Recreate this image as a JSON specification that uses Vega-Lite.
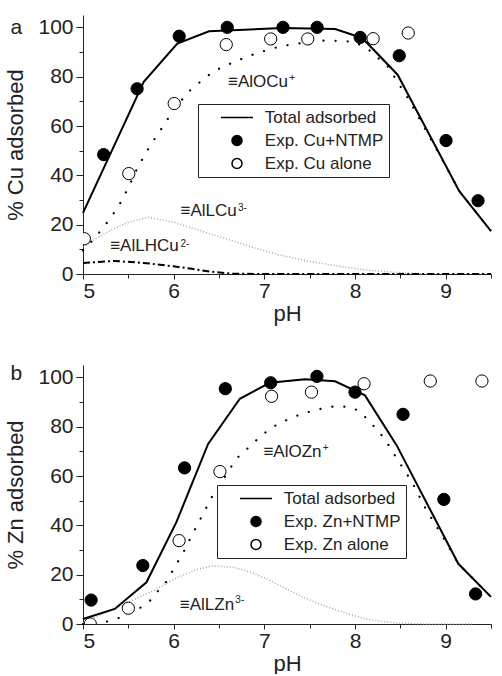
{
  "$schema": "https://vega.github.io/schema/vega-lite/v6.json",
  "background": "white",
  "padding": {"left": 4, "top": 15, "right": 0, "bottom": 0},
  "spacing": 39,
  "resolve": {"scale": {"fill": "independent", "shape": "independent", "stroke": "independent", "x": "independent", "y": "independent"}, "legend": {"fill": "independent", "shape": "independent", "stroke": "independent"}},
  "config": {
    "font": "Liberation Sans",
    "view": {"stroke": null},
    "axis": {"labelFont": "Liberation Sans", "titleFont": "Liberation Sans", "labelFontSize": 21, "titleFontSize": 22, "titleFontWeight": "normal", "domainColor": "#222", "tickColor": "#222", "labelColor": "#222", "titleColor": "#222", "grid": false, "domainWidth": 1, "tickWidth": 1},
    "axisY": {"tickSize": 7, "labelPadding": 3, "titlePadding": 10},
    "axisX": {"tickSize": 5, "labelPadding": 1, "titlePadding": 2}
  },
  "datasets": {
    "cuCurves": [
      {"curve": "total", "pH": 5.0, "val": 24.8}, {"curve": "total", "pH": 5.67, "val": 77.9}, {"curve": "total", "pH": 6.04, "val": 93.4}, {"curve": "total", "pH": 6.39, "val": 98.4}, {"curve": "total", "pH": 7.2, "val": 99.7}, {"curve": "total", "pH": 7.78, "val": 99.3}, {"curve": "total", "pH": 8.08, "val": 95.7}, {"curve": "total", "pH": 8.47, "val": 80.8}, {"curve": "total", "pH": 9.15, "val": 33.6}, {"curve": "total", "pH": 9.5, "val": 17.4},
      {"curve": "AlO", "pH": 5.0, "val": 9.5}, {"curve": "AlO", "pH": 5.1, "val": 13.4}, {"curve": "AlO", "pH": 5.2, "val": 17.7}, {"curve": "AlO", "pH": 5.3, "val": 22.5}, {"curve": "AlO", "pH": 5.4, "val": 28}, {"curve": "AlO", "pH": 5.5, "val": 35}, {"curve": "AlO", "pH": 5.6, "val": 43}, {"curve": "AlO", "pH": 5.74, "val": 52}, {"curve": "AlO", "pH": 5.84, "val": 57.5}, {"curve": "AlO", "pH": 5.92, "val": 62}, {"curve": "AlO", "pH": 6.0, "val": 66.5}, {"curve": "AlO", "pH": 6.1, "val": 71}, {"curve": "AlO", "pH": 6.19, "val": 74.8}, {"curve": "AlO", "pH": 6.31, "val": 78.4}, {"curve": "AlO", "pH": 6.44, "val": 82.2}, {"curve": "AlO", "pH": 6.68, "val": 86.2}, {"curve": "AlO", "pH": 6.92, "val": 89.6}, {"curve": "AlO", "pH": 7.18, "val": 92.3}, {"curve": "AlO", "pH": 7.4, "val": 93.6}, {"curve": "AlO", "pH": 7.64, "val": 94.6}, {"curve": "AlO", "pH": 7.85, "val": 94.5}, {"curve": "AlO", "pH": 8.0, "val": 94}, {"curve": "AlO", "pH": 8.15, "val": 91}, {"curve": "AlO", "pH": 8.36, "val": 84.2}, {"curve": "AlO", "pH": 8.6, "val": 70.3}, {"curve": "AlO", "pH": 8.8, "val": 57}, {"curve": "AlO", "pH": 9.0, "val": 44}, {"curve": "AlO", "pH": 9.15, "val": 33.6}, {"curve": "AlO", "pH": 9.5, "val": 17.4},
      {"curve": "AlL", "pH": 5.0, "val": 11}, {"curve": "AlL", "pH": 5.15, "val": 14.5}, {"curve": "AlL", "pH": 5.32, "val": 18}, {"curve": "AlL", "pH": 5.5, "val": 21}, {"curve": "AlL", "pH": 5.72, "val": 23}, {"curve": "AlL", "pH": 6.0, "val": 21}, {"curve": "AlL", "pH": 6.3, "val": 17.5}, {"curve": "AlL", "pH": 6.61, "val": 13.9}, {"curve": "AlL", "pH": 6.9, "val": 10.5}, {"curve": "AlL", "pH": 7.16, "val": 7.8}, {"curve": "AlL", "pH": 7.45, "val": 5.5}, {"curve": "AlL", "pH": 7.71, "val": 3.8}, {"curve": "AlL", "pH": 8.08, "val": 1.8}, {"curve": "AlL", "pH": 8.35, "val": 0.9}, {"curve": "AlL", "pH": 8.6, "val": 0.3}, {"curve": "AlL", "pH": 8.8, "val": 0},
      {"curve": "AlLH", "pH": 5.0, "val": 4.5}, {"curve": "AlLH", "pH": 5.35, "val": 5.3}, {"curve": "AlLH", "pH": 5.7, "val": 4.4}, {"curve": "AlLH", "pH": 6.0, "val": 3.1}, {"curve": "AlLH", "pH": 6.2, "val": 2.1}, {"curve": "AlLH", "pH": 6.4, "val": 1.0}, {"curve": "AlLH", "pH": 6.65, "val": 0.1}, {"curve": "AlLH", "pH": 7.0, "val": 0}, {"curve": "AlLH", "pH": 8.0, "val": 0}, {"curve": "AlLH", "pH": 9.5, "val": 0}
    ],
    "cuPoints": [
      {"series": "Exp. Cu+NTMP", "pH": 5.228, "val": 48.4}, {"series": "Exp. Cu+NTMP", "pH": 5.597, "val": 75.1}, {"series": "Exp. Cu+NTMP", "pH": 6.061, "val": 96.4}, {"series": "Exp. Cu+NTMP", "pH": 6.591, "val": 100}, {"series": "Exp. Cu+NTMP", "pH": 7.206, "val": 100}, {"series": "Exp. Cu+NTMP", "pH": 7.582, "val": 100}, {"series": "Exp. Cu+NTMP", "pH": 8.057, "val": 95.9}, {"series": "Exp. Cu+NTMP", "pH": 8.488, "val": 88.5}, {"series": "Exp. Cu+NTMP", "pH": 9.004, "val": 54.1}, {"series": "Exp. Cu+NTMP", "pH": 9.357, "val": 29.7},
      {"series": "Exp. Cu alone", "pH": 5.015, "val": 14.3}, {"series": "Exp. Cu alone", "pH": 5.505, "val": 40.7}, {"series": "Exp. Cu alone", "pH": 6.006, "val": 69.1}, {"series": "Exp. Cu alone", "pH": 6.58, "val": 93.0}, {"series": "Exp. Cu alone", "pH": 7.07, "val": 95.3}, {"series": "Exp. Cu alone", "pH": 7.479, "val": 95.3}, {"series": "Exp. Cu alone", "pH": 8.2, "val": 95.4}, {"series": "Exp. Cu alone", "pH": 8.587, "val": 97.7}
    ],
    "cuLabels": [
      {"label": "≡AlOCu", "pH": 6.6, "val": 75.7},
      {"label": "≡AlLCu", "pH": 6.076, "val": 23.5},
      {"label": "≡AlLHCu", "pH": 5.3, "val": 9.3}
    ],
    "cuSup": [
      {"sup": "+", "pH": 7.274, "val": 78.4},
      {"sup": "3-", "pH": 6.71, "val": 25.5},
      {"sup": "2-", "pH": 6.075, "val": 11.1}
    ],
    "cuPanel": [{"label": "a", "pH": 4.2, "val": 97.5}],
    "znCurves": [
      {"curve": "total", "pH": 5.0, "val": 2}, {"curve": "total", "pH": 5.35, "val": 6.1}, {"curve": "total", "pH": 5.7, "val": 16.9}, {"curve": "total", "pH": 6.03, "val": 41.3}, {"curve": "total", "pH": 6.38, "val": 73}, {"curve": "total", "pH": 6.73, "val": 91.3}, {"curve": "total", "pH": 7.06, "val": 97.8}, {"curve": "total", "pH": 7.45, "val": 99.2}, {"curve": "total", "pH": 7.78, "val": 98.4}, {"curve": "total", "pH": 8.11, "val": 92.7}, {"curve": "total", "pH": 8.46, "val": 72.4}, {"curve": "total", "pH": 9.14, "val": 24.4}, {"curve": "total", "pH": 9.5, "val": 11},
      {"curve": "AlO", "pH": 5.0, "val": 0}, {"curve": "AlO", "pH": 5.22, "val": 0.5}, {"curve": "AlO", "pH": 5.4, "val": 2.5}, {"curve": "AlO", "pH": 5.61, "val": 6}, {"curve": "AlO", "pH": 5.74, "val": 9.5}, {"curve": "AlO", "pH": 5.83, "val": 13.5}, {"curve": "AlO", "pH": 5.93, "val": 17.6}, {"curve": "AlO", "pH": 6.01, "val": 23}, {"curve": "AlO", "pH": 6.1, "val": 28.5}, {"curve": "AlO", "pH": 6.2, "val": 35.9}, {"curve": "AlO", "pH": 6.33, "val": 45}, {"curve": "AlO", "pH": 6.44, "val": 52.8}, {"curve": "AlO", "pH": 6.55, "val": 58.8}, {"curve": "AlO", "pH": 6.69, "val": 67}, {"curve": "AlO", "pH": 6.81, "val": 71}, {"curve": "AlO", "pH": 6.92, "val": 74.8}, {"curve": "AlO", "pH": 7.04, "val": 78.5}, {"curve": "AlO", "pH": 7.17, "val": 81.6}, {"curve": "AlO", "pH": 7.27, "val": 83}, {"curve": "AlO", "pH": 7.41, "val": 85.2}, {"curve": "AlO", "pH": 7.63, "val": 87.3}, {"curve": "AlO", "pH": 7.8, "val": 88.5}, {"curve": "AlO", "pH": 7.95, "val": 87.8}, {"curve": "AlO", "pH": 8.05, "val": 86.3}, {"curve": "AlO", "pH": 8.2, "val": 80.5}, {"curve": "AlO", "pH": 8.33, "val": 75}, {"curve": "AlO", "pH": 8.44, "val": 68.3}, {"curve": "AlO", "pH": 8.63, "val": 57.5}, {"curve": "AlO", "pH": 8.78, "val": 46.7}, {"curve": "AlO", "pH": 8.96, "val": 35.9}, {"curve": "AlO", "pH": 9.14, "val": 24.4}, {"curve": "AlO", "pH": 9.5, "val": 11},
      {"curve": "AlL", "pH": 5.0, "val": 0.5}, {"curve": "AlL", "pH": 5.15, "val": 3}, {"curve": "AlL", "pH": 5.37, "val": 6.5}, {"curve": "AlL", "pH": 5.6, "val": 10.5}, {"curve": "AlL", "pH": 5.8, "val": 14}, {"curve": "AlL", "pH": 6.05, "val": 19}, {"curve": "AlL", "pH": 6.25, "val": 22}, {"curve": "AlL", "pH": 6.42, "val": 23.5}, {"curve": "AlL", "pH": 6.66, "val": 23}, {"curve": "AlL", "pH": 6.85, "val": 21}, {"curve": "AlL", "pH": 7.03, "val": 18.3}, {"curve": "AlL", "pH": 7.2, "val": 15}, {"curve": "AlL", "pH": 7.39, "val": 11.5}, {"curve": "AlL", "pH": 7.58, "val": 8.5}, {"curve": "AlL", "pH": 7.76, "val": 6.1}, {"curve": "AlL", "pH": 7.95, "val": 3.8}, {"curve": "AlL", "pH": 8.13, "val": 2}, {"curve": "AlL", "pH": 8.3, "val": 1}, {"curve": "AlL", "pH": 8.5, "val": 0.3}, {"curve": "AlL", "pH": 8.8, "val": 0}, {"curve": "AlL", "pH": 9.3, "val": 0}
    ],
    "znPoints": [
      {"series": "Exp. Zn+NTMP", "pH": 5.09, "val": 9.7}, {"series": "Exp. Zn+NTMP", "pH": 5.66, "val": 23.7}, {"series": "Exp. Zn+NTMP", "pH": 6.12, "val": 63.3}, {"series": "Exp. Zn+NTMP", "pH": 6.57, "val": 95.4}, {"series": "Exp. Zn+NTMP", "pH": 7.07, "val": 97.8}, {"series": "Exp. Zn+NTMP", "pH": 7.58, "val": 100.4}, {"series": "Exp. Zn+NTMP", "pH": 8.0, "val": 94}, {"series": "Exp. Zn+NTMP", "pH": 8.53, "val": 85}, {"series": "Exp. Zn+NTMP", "pH": 8.98, "val": 50.5}, {"series": "Exp. Zn+NTMP", "pH": 9.33, "val": 12.2},
      {"series": "Exp. Zn alone", "pH": 5.08, "val": 0}, {"series": "Exp. Zn alone", "pH": 5.5, "val": 6.4}, {"series": "Exp. Zn alone", "pH": 6.06, "val": 33.8}, {"series": "Exp. Zn alone", "pH": 6.51, "val": 61.8}, {"series": "Exp. Zn alone", "pH": 7.08, "val": 92.3}, {"series": "Exp. Zn alone", "pH": 7.52, "val": 94}, {"series": "Exp. Zn alone", "pH": 8.1, "val": 97.4}, {"series": "Exp. Zn alone", "pH": 8.83, "val": 98.5}, {"series": "Exp. Zn alone", "pH": 9.4, "val": 98.5}
    ],
    "znLabels": [
      {"label": "≡AlOZn", "pH": 6.99, "val": 67.7},
      {"label": "≡AlLZn", "pH": 6.068, "val": 5.8}
    ],
    "znSup": [
      {"sup": "+", "pH": 7.643, "val": 70.3},
      {"sup": "3-", "pH": 6.68, "val": 8.4}
    ],
    "znPanel": [{"label": "b", "pH": 4.2, "val": 98.8}]
  },
  "vconcat": [
    {
      "width": 408,
      "height": 259,
      "resolve": {"axis": {"x": "independent", "y": "independent"}},
      "layer": [
        {
          "data": {"name": "cuCurves"},
          "transform": [{"filter": "datum.curve === 'AlL'"}],
          "mark": {"type": "line", "color": "#a8a8a8", "strokeWidth": 1.5, "strokeDash": [1, 2]},
          "encoding": {
            "x": {"field": "pH", "type": "quantitative", "scale": {"domain": [5, 9.5], "nice": false, "zero": false}, "axis": {"orient": "bottom", "values": [5, 6, 7, 8, 9], "title": "pH"}},
            "y": {"field": "val", "type": "quantitative", "scale": {"domain": [0, 105], "nice": false}, "axis": {"orient": "left", "values": [0, 20, 40, 60, 80, 100], "title": "% Cu adsorbed"}}
          }
        },
        {
          "data": {"name": "cuCurves"},
          "transform": [{"filter": "datum.curve === 'AlLH'"}],
          "mark": {"type": "line", "color": "black", "strokeWidth": 2, "strokeDash": [7, 3, 2, 3]},
          "encoding": {
            "x": {"field": "pH", "type": "quantitative", "scale": {"domain": [5, 9.5], "nice": false, "zero": false}, "axis": null},
            "y": {"field": "val", "type": "quantitative", "scale": {"domain": [0, 105], "nice": false}, "axis": null}
          }
        },
        {
          "data": {"name": "cuCurves"},
          "transform": [{"filter": "datum.curve === 'AlO'"}],
          "mark": {"type": "line", "color": "black", "strokeWidth": 2.2, "strokeDash": [0.1, 12], "strokeCap": "round"},
          "encoding": {
            "x": {"field": "pH", "type": "quantitative", "scale": {"domain": [5, 9.5], "nice": false, "zero": false}, "axis": null},
            "y": {"field": "val", "type": "quantitative", "scale": {"domain": [0, 105], "nice": false}, "axis": null}
          }
        },
        {
          "data": {"name": "cuCurves"},
          "transform": [{"filter": "datum.curve === 'total'"}],
          "mark": {"type": "line", "color": "black", "strokeWidth": 2},
          "encoding": {
            "x": {"field": "pH", "type": "quantitative", "scale": {"domain": [5, 9.5], "nice": false, "zero": false}, "axis": null},
            "y": {"field": "val", "type": "quantitative", "scale": {"domain": [0, 105], "nice": false}, "axis": null}
          }
        },
        {
          "data": {"name": "cuLabels"},
          "mark": {"type": "text", "align": "left", "baseline": "alphabetic", "fontSize": 17, "font": "Liberation Sans", "color": "#222"},
          "encoding": {
            "x": {"field": "pH", "type": "quantitative", "scale": {"domain": [5, 9.5], "nice": false, "zero": false}, "axis": {"orient": "bottom", "values": [5.5, 6.5, 7.5, 8.5, 9.5], "labels": false, "title": null, "domain": false, "tickSize": 4}},
            "y": {"field": "val", "type": "quantitative", "scale": {"domain": [0, 105], "nice": false}, "axis": {"orient": "left", "values": [10, 30, 50, 70, 90], "labels": false, "title": null, "domain": false, "tickSize": 4}},
            "text": {"field": "label"}
          }
        },
        {
          "data": {"name": "cuSup"},
          "mark": {"type": "text", "align": "left", "baseline": "alphabetic", "fontSize": 10, "font": "Liberation Sans", "color": "#222"},
          "encoding": {
            "x": {"field": "pH", "type": "quantitative", "scale": {"domain": [5, 9.5], "nice": false, "zero": false}, "axis": null},
            "y": {"field": "val", "type": "quantitative", "scale": {"domain": [0, 105], "nice": false}, "axis": null},
            "text": {"field": "sup"}
          }
        },
        {
          "data": {"name": "cuPanel"},
          "mark": {"type": "text", "align": "left", "baseline": "alphabetic", "fontSize": 21, "font": "Liberation Sans", "color": "#222"},
          "encoding": {
            "x": {"field": "pH", "type": "quantitative", "scale": {"domain": [5, 9.5], "nice": false, "zero": false}, "axis": null},
            "y": {"field": "val", "type": "quantitative", "scale": {"domain": [0, 105], "nice": false}, "axis": null},
            "text": {"field": "label"}
          }
        },
        {
          "data": {"name": "cuPoints"},
          "mark": {"type": "point", "filled": true, "strokeWidth": 1, "size": 150, "opacity": 1, "clip": true},
          "encoding": {
            "x": {"field": "pH", "type": "quantitative", "scale": {"domain": [5, 9.5], "nice": false, "zero": false}, "axis": null},
            "y": {"field": "val", "type": "quantitative", "scale": {"domain": [0, 105], "nice": false}, "axis": null},
            "fill": {"field": "series", "type": "nominal", "scale": {"domain": ["Total adsorbed", "Exp. Cu+NTMP", "Exp. Cu alone"], "range": ["black", "black", "white"]},
              "legend": {"orient": "none", "legendX": 115, "legendY": 89, "title": null, "padding": 5, "strokeColor": "#222", "fillColor": "white", "labelFontSize": 17, "labelFont": "Liberation Sans", "labelColor": "#222", "rowPadding": 5, "symbolOffset": 25.5, "labelOffset": 19.3, "symbolStrokeWidth": 1.5, "labelExpr": "datum.label + '   '"}},
            "stroke": {"field": "series", "type": "nominal", "scale": {"domain": ["Total adsorbed", "Exp. Cu+NTMP", "Exp. Cu alone"], "range": ["black", "black", "black"]},
              "legend": {"orient": "none", "legendX": 115, "legendY": 89, "title": null, "padding": 5, "strokeColor": "#222", "fillColor": "white", "labelFontSize": 17, "labelFont": "Liberation Sans", "labelColor": "#222", "rowPadding": 5, "symbolOffset": 25.5, "labelOffset": 19.3, "symbolStrokeWidth": 1.5, "labelExpr": "datum.label + '   '"}},
            "shape": {"field": "series", "type": "nominal", "scale": {"domain": ["Total adsorbed", "Exp. Cu+NTMP", "Exp. Cu alone"], "range": ["M -3.2 0 H 3.2", "circle", "circle"]},
              "legend": {"orient": "none", "legendX": 115, "legendY": 89, "title": null, "padding": 5, "strokeColor": "#222", "fillColor": "white", "labelFontSize": 17, "labelFont": "Liberation Sans", "labelColor": "#222", "rowPadding": 5, "symbolOffset": 25.5, "labelOffset": 19.3, "symbolStrokeWidth": 1.5, "labelExpr": "datum.label + '   '"}}
          }
        }
      ]
    },
    {
      "width": 408,
      "height": 259,
      "resolve": {"axis": {"x": "independent", "y": "independent"}},
      "layer": [
        {
          "data": {"name": "znCurves"},
          "transform": [{"filter": "datum.curve === 'AlL'"}],
          "mark": {"type": "line", "color": "#a8a8a8", "strokeWidth": 1.5, "strokeDash": [1, 2]},
          "encoding": {
            "x": {"field": "pH", "type": "quantitative", "scale": {"domain": [5, 9.5], "nice": false, "zero": false}, "axis": {"orient": "bottom", "values": [5, 6, 7, 8, 9], "title": "pH"}},
            "y": {"field": "val", "type": "quantitative", "scale": {"domain": [0, 105], "nice": false}, "axis": {"orient": "left", "values": [0, 20, 40, 60, 80, 100], "title": "% Zn adsorbed"}}
          }
        },
        {
          "data": {"name": "znCurves"},
          "transform": [{"filter": "datum.curve === 'AlO'"}],
          "mark": {"type": "line", "color": "black", "strokeWidth": 2.2, "strokeDash": [0.1, 12], "strokeCap": "round"},
          "encoding": {
            "x": {"field": "pH", "type": "quantitative", "scale": {"domain": [5, 9.5], "nice": false, "zero": false}, "axis": null},
            "y": {"field": "val", "type": "quantitative", "scale": {"domain": [0, 105], "nice": false}, "axis": null}
          }
        },
        {
          "data": {"name": "znCurves"},
          "transform": [{"filter": "datum.curve === 'total'"}],
          "mark": {"type": "line", "color": "black", "strokeWidth": 2},
          "encoding": {
            "x": {"field": "pH", "type": "quantitative", "scale": {"domain": [5, 9.5], "nice": false, "zero": false}, "axis": null},
            "y": {"field": "val", "type": "quantitative", "scale": {"domain": [0, 105], "nice": false}, "axis": null}
          }
        },
        {
          "data": {"name": "znLabels"},
          "mark": {"type": "text", "align": "left", "baseline": "alphabetic", "fontSize": 17, "font": "Liberation Sans", "color": "#222"},
          "encoding": {
            "x": {"field": "pH", "type": "quantitative", "scale": {"domain": [5, 9.5], "nice": false, "zero": false}, "axis": {"orient": "bottom", "values": [5.5, 6.5, 7.5, 8.5, 9.5], "labels": false, "title": null, "domain": false, "tickSize": 4}},
            "y": {"field": "val", "type": "quantitative", "scale": {"domain": [0, 105], "nice": false}, "axis": {"orient": "left", "values": [10, 30, 50, 70, 90], "labels": false, "title": null, "domain": false, "tickSize": 4}},
            "text": {"field": "label"}
          }
        },
        {
          "data": {"name": "znSup"},
          "mark": {"type": "text", "align": "left", "baseline": "alphabetic", "fontSize": 10, "font": "Liberation Sans", "color": "#222"},
          "encoding": {
            "x": {"field": "pH", "type": "quantitative", "scale": {"domain": [5, 9.5], "nice": false, "zero": false}, "axis": null},
            "y": {"field": "val", "type": "quantitative", "scale": {"domain": [0, 105], "nice": false}, "axis": null},
            "text": {"field": "sup"}
          }
        },
        {
          "data": {"name": "znPanel"},
          "mark": {"type": "text", "align": "left", "baseline": "alphabetic", "fontSize": 21, "font": "Liberation Sans", "color": "#222"},
          "encoding": {
            "x": {"field": "pH", "type": "quantitative", "scale": {"domain": [5, 9.5], "nice": false, "zero": false}, "axis": null},
            "y": {"field": "val", "type": "quantitative", "scale": {"domain": [0, 105], "nice": false}, "axis": null},
            "text": {"field": "label"}
          }
        },
        {
          "data": {"name": "znPoints"},
          "mark": {"type": "point", "filled": true, "strokeWidth": 1, "size": 150, "opacity": 1, "clip": true},
          "encoding": {
            "x": {"field": "pH", "type": "quantitative", "scale": {"domain": [5, 9.5], "nice": false, "zero": false}, "axis": null},
            "y": {"field": "val", "type": "quantitative", "scale": {"domain": [0, 105], "nice": false}, "axis": null},
            "fill": {"field": "series", "type": "nominal", "scale": {"domain": ["Total adsorbed", "Exp. Zn+NTMP", "Exp. Zn alone"], "range": ["black", "black", "white"]},
              "legend": {"orient": "none", "legendX": 134, "legendY": 120, "title": null, "padding": 5, "strokeColor": "#222", "fillColor": "white", "labelFontSize": 17, "labelFont": "Liberation Sans", "labelColor": "#222", "rowPadding": 5, "symbolOffset": 25.5, "labelOffset": 19.3, "symbolStrokeWidth": 1.5, "labelExpr": "datum.label + '   '"}},
            "stroke": {"field": "series", "type": "nominal", "scale": {"domain": ["Total adsorbed", "Exp. Zn+NTMP", "Exp. Zn alone"], "range": ["black", "black", "black"]},
              "legend": {"orient": "none", "legendX": 134, "legendY": 120, "title": null, "padding": 5, "strokeColor": "#222", "fillColor": "white", "labelFontSize": 17, "labelFont": "Liberation Sans", "labelColor": "#222", "rowPadding": 5, "symbolOffset": 25.5, "labelOffset": 19.3, "symbolStrokeWidth": 1.5, "labelExpr": "datum.label + '   '"}},
            "shape": {"field": "series", "type": "nominal", "scale": {"domain": ["Total adsorbed", "Exp. Zn+NTMP", "Exp. Zn alone"], "range": ["M -3.2 0 H 3.2", "circle", "circle"]},
              "legend": {"orient": "none", "legendX": 134, "legendY": 120, "title": null, "padding": 5, "strokeColor": "#222", "fillColor": "white", "labelFontSize": 17, "labelFont": "Liberation Sans", "labelColor": "#222", "rowPadding": 5, "symbolOffset": 25.5, "labelOffset": 19.3, "symbolStrokeWidth": 1.5, "labelExpr": "datum.label + '   '"}}
          }
        }
      ]
    }
  ]
}
